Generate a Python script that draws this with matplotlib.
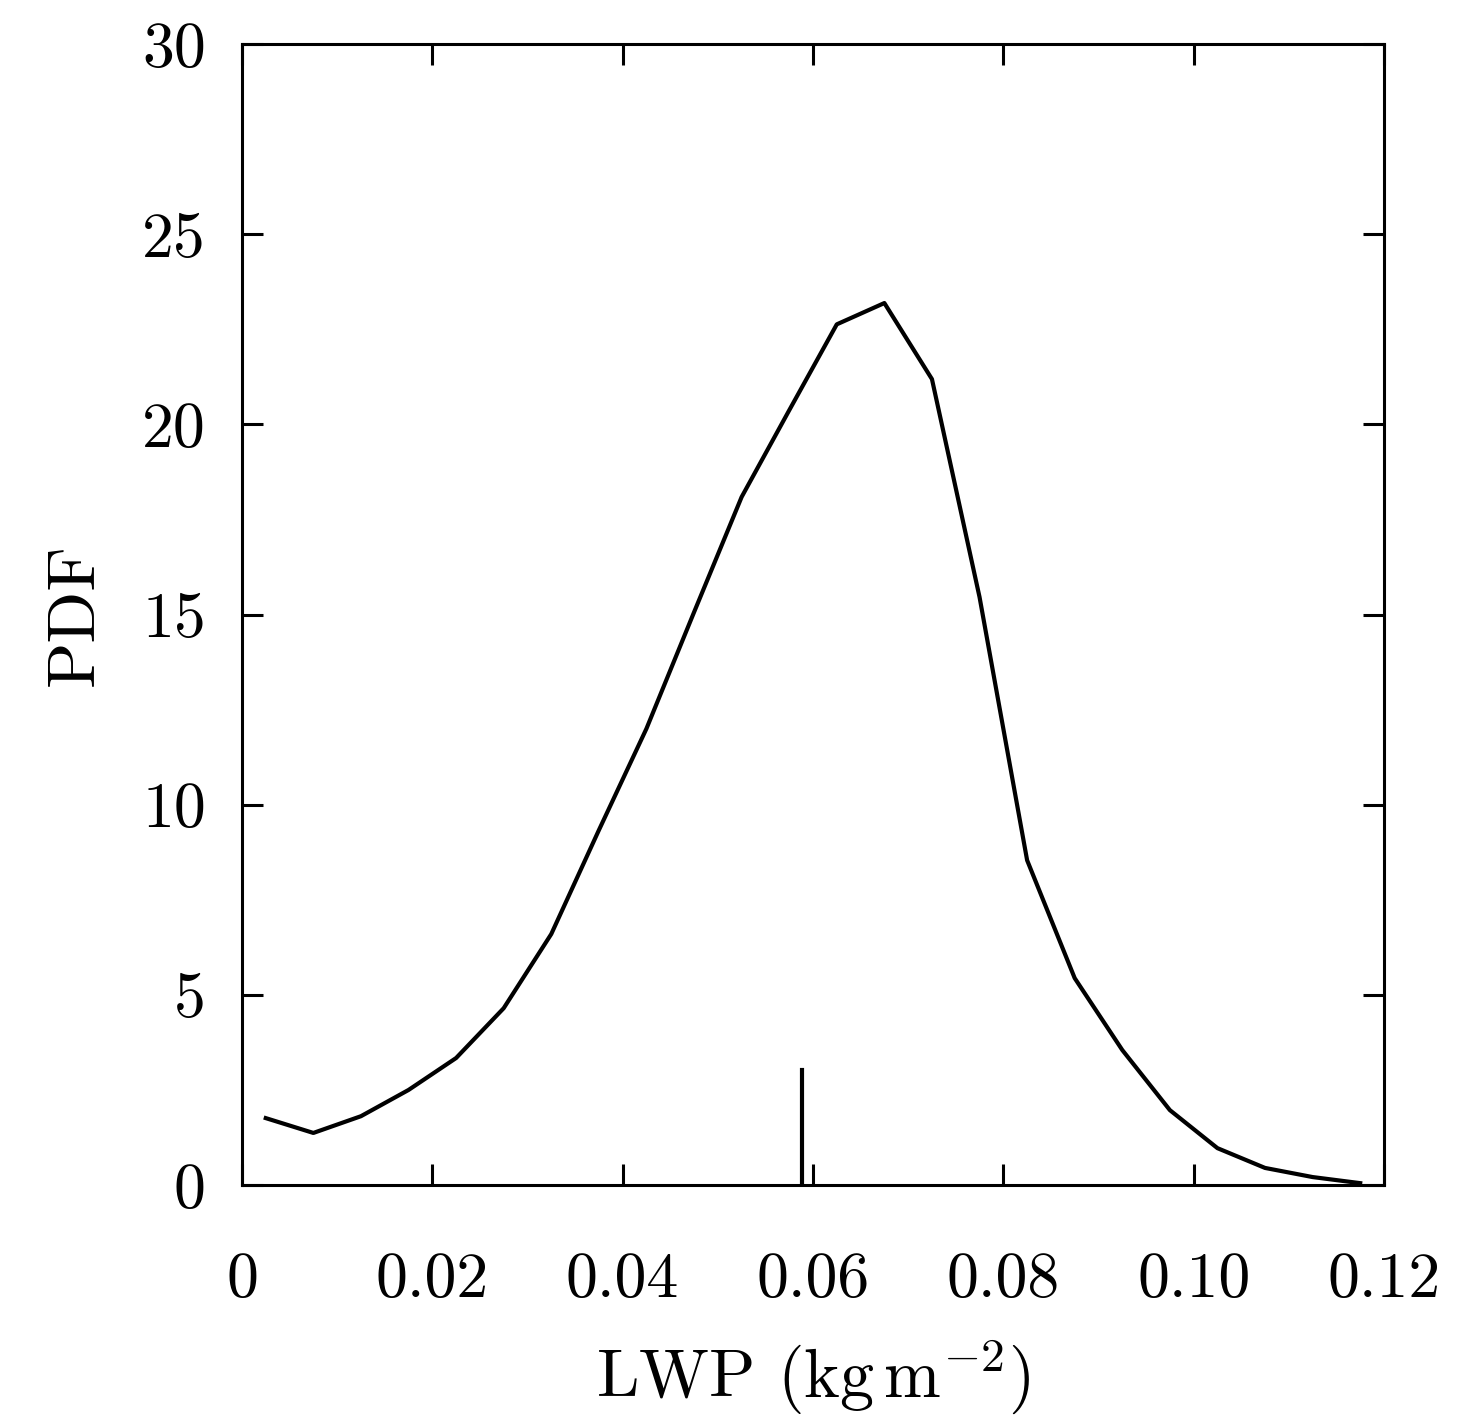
import matplotlib
matplotlib.use("Agg")
import matplotlib.pyplot as plt
from matplotlib.ticker import FixedLocator, FixedFormatter

lwp = [0.0025, 0.0075, 0.0125, 0.0175, 0.0225, 0.0275, 0.0325, 0.0375, 0.0425, 0.0475,
       0.0525, 0.0575, 0.0625, 0.0675, 0.0725, 0.0775, 0.0825, 0.0875, 0.0925, 0.0975,
       0.1025, 0.1075, 0.1125, 0.1175]
pdf = [1.76, 1.37, 1.81, 2.5, 3.34, 4.65, 6.6, 9.33, 12.0, 15.06,
       18.09, 20.37, 22.63, 23.19, 21.19, 15.46, 8.54, 5.44, 3.55, 1.97,
       0.97, 0.45, 0.21, 0.05]
mean_lwp = 0.0588
mean_height = 3.02
xticks = [0, 0.02, 0.04, 0.06, 0.08, 0.10, 0.12]
xticklabels = ["0", "0.02", "0.04", "0.06", "0.08", "0.10", "0.12"]
yticks = [0, 5, 10, 15, 20, 25, 30]

plt.rcParams['font.family'] = 'serif'
plt.rcParams['font.serif'] = ['cmr10']
plt.rcParams['mathtext.fontset'] = 'cm'
plt.rcParams['axes.unicode_minus'] = False

fig = plt.figure(figsize=(14.63, 14.16), dpi=100)
ax = fig.add_axes([0.1654, 0.1631, 0.946 - 0.1654, 0.9689 - 0.1631])
ax.plot(lwp, pdf, color='black', lw=3)
ax.plot([mean_lwp, mean_lwp], [0, mean_height], color='black', lw=3)
ax.set_xlim(0, 0.12)
ax.set_ylim(0, 30)
ax.xaxis.set_major_locator(FixedLocator(xticks))
ax.xaxis.set_major_formatter(FixedFormatter(xticklabels))
ax.yaxis.set_major_locator(FixedLocator(yticks))
ax.yaxis.set_major_formatter(FixedFormatter([str(v) for v in yticks]))
ax.tick_params(direction='in', length=15, width=2.2, labelsize=46, top=True, right=True)
ax.tick_params(axis='x', pad=48)
ax.tick_params(axis='y', pad=26)
for s in ax.spines.values():
    s.set_linewidth(2.2)
ax.set_xlabel(r'LWP $(\mathrm{kg\,m^{-2}})$', fontsize=49, labelpad=20)
ax.set_ylabel('PDF', fontsize=49, labelpad=26)
fig.savefig('out.png', dpi=100)
